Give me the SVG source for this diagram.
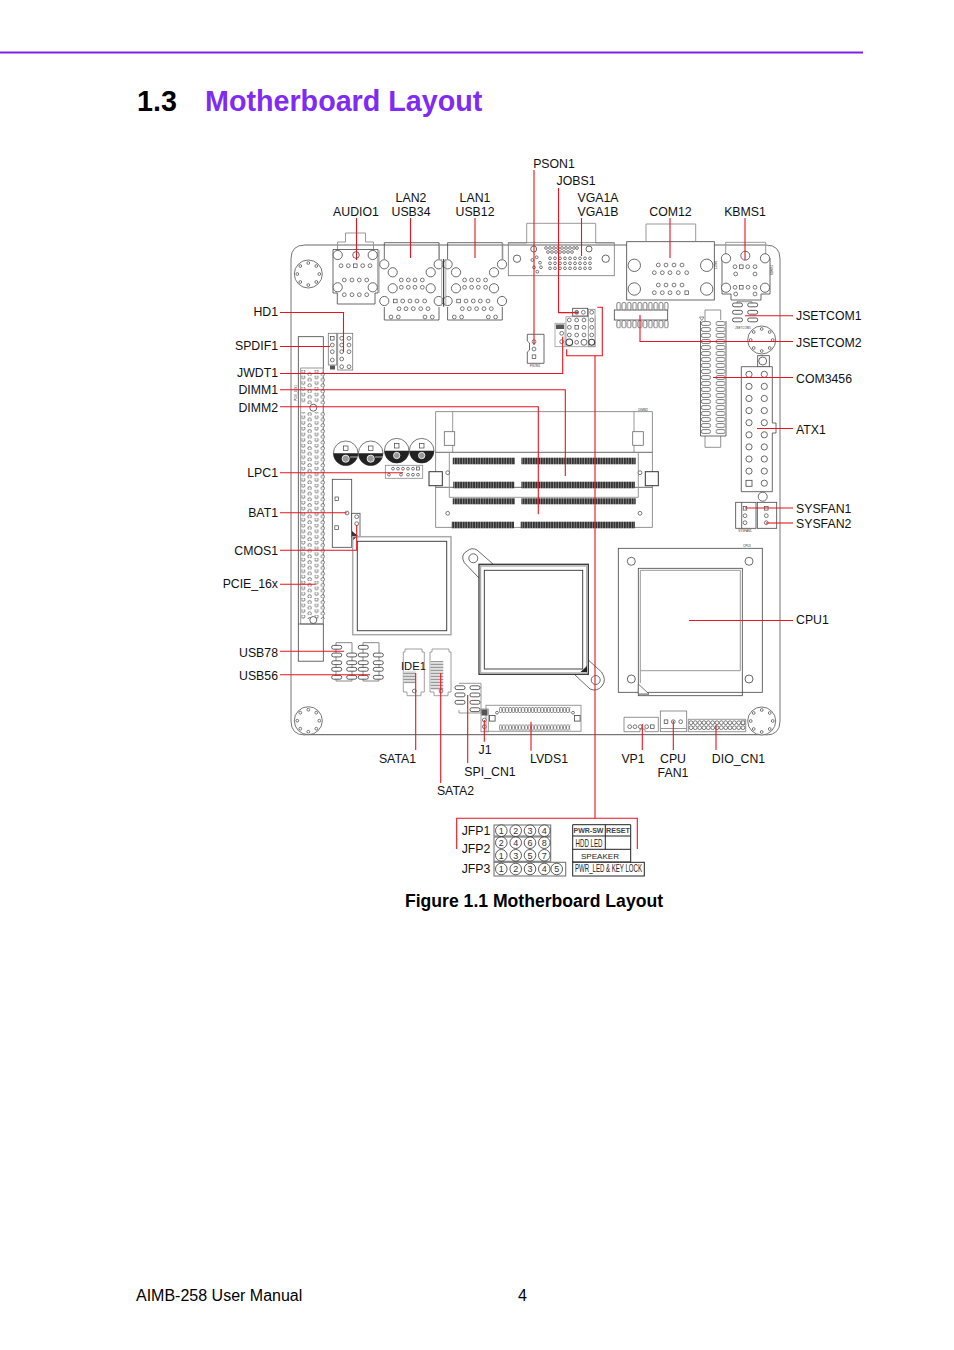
<svg xmlns="http://www.w3.org/2000/svg" xmlns:xlink="http://www.w3.org/1999/xlink" width="954" height="1350" viewBox="0 0 954 1350">
<style>
text{font-family:"Liberation Sans",Arial,sans-serif;fill:#111}
.l{font-size:12.3px}
.e{text-anchor:end}
.m{text-anchor:middle}
.tiny{font-size:3px;fill:#333;text-anchor:middle}
.o,.o *{fill:none}
.o{stroke:#444;stroke-width:.8}
.g{fill:none;stroke:#999;stroke-width:1}
.h{fill:#fff;stroke:#444;stroke-width:.7;r:1.9px}
.s{fill:#fff;stroke:#444;stroke-width:.7;r:1.4px}
.b{fill:#fff;stroke:#444;stroke-width:.8;r:4.6px}
.q{fill:#fff;stroke:#444;stroke-width:.7;width:3.6px;height:3.6px}
.p{fill:#fff;stroke:#333;stroke-width:.8;rx:1.8px;width:10px;height:3.8px}
.w{fill:#fff;stroke:#444;stroke-width:.8}
.d{fill:url(#strip);stroke:none}
.n{font-size:9px;text-anchor:middle;fill:#333}
.c{fill:#fff;stroke:#333;stroke-width:.8}
.k{font-size:7px;font-weight:bold;fill:#444;text-anchor:middle}
#conn path{fill:none;stroke:#e8141e;stroke-width:1.1}
</style>
<defs>
<pattern id="strip" patternUnits="userSpaceOnUse" width="2.6" height="8"><rect width="2.6" height="8" fill="#8a8a8a"/><rect width="1.7" height="8" fill="#333"/></pattern>
<pattern id="pcie" patternUnits="userSpaceOnUse" x="301.4" y="370" width="13.2" height="5.7"><circle cx="1.9" cy="1.4" r="1.7" fill="#fff" stroke="#444" stroke-width=".7"/><circle cx="8.2" cy="4.2" r="1.7" fill="#fff" stroke="#444" stroke-width=".7"/></pattern>
<pattern id="com" patternUnits="userSpaceOnUse" x="701" y="321" width="14.7" height="6"><rect x=".4" y=".6" width="9" height="3.8" rx="1.6" fill="#fff" stroke="#444" stroke-width=".7"/></pattern>
<pattern id="lv1" patternUnits="userSpaceOnUse" x="499" y="707" width="3.2" height="6"><rect x=".4" y=".4" width="2.4" height="5.2" rx="1.1" fill="#fff" stroke="#444" stroke-width=".6"/></pattern>
<pattern id="lv2" patternUnits="userSpaceOnUse" x="499" y="724.5" width="3.2" height="6"><rect x=".4" y=".4" width="2.4" height="5.2" rx="1.1" fill="#fff" stroke="#444" stroke-width=".6"/></pattern>
<pattern id="js1" patternUnits="userSpaceOnUse" x="616" y="302" width="5.3" height="8.2"><rect x=".8" y=".4" width="3.6" height="7.6" rx="1.6" fill="#fff" stroke="#444" stroke-width=".7"/></pattern>
<pattern id="js2" patternUnits="userSpaceOnUse" x="616" y="320" width="5.3" height="8.2"><rect x=".8" y=".4" width="3.6" height="7.6" rx="1.6" fill="#fff" stroke="#444" stroke-width=".7"/></pattern>
<pattern id="sat" patternUnits="userSpaceOnUse" width="8" height="3"><rect width="8" height="3" fill="#fff"/><rect y=".6" width="8" height="1.7" fill="#999"/></pattern>
<g id="screw">
<circle r="14" fill="#fff" stroke="#666" stroke-width=".9"/>
<circle class="s" cy="-11"/><circle class="s" cx="8" cy="-8"/><circle class="s" cx="11"/><circle class="s" cx="8" cy="8"/><circle class="s" cy="11"/><circle class="s" cx="-8" cy="8"/><circle class="s" cx="-11"/><circle class="s" cx="-8" cy="-8"/>
</g>
<g id="lan">
<path class="o" d="M384.3 259V242.7H439V259M384.3 307V320H439V307"/>
<path class="g" d="M439.5 243V259"/>
<circle class="b" cx="384.3" cy="264.3"/><circle class="b" cx="392.7" cy="272.3"/><circle class="b" cx="430.7" cy="272.3"/><circle class="b" cx="438.7" cy="264.3"/><circle class="b" cx="392.7" cy="288.3"/><circle class="b" cx="430.7" cy="288.3"/><circle class="b" cx="384.3" cy="301"/><circle class="b" cx="438.7" cy="301"/>
<circle class="h" cx="401.3" cy="280"/><circle class="h" cx="408.3" cy="280"/><circle class="h" cx="415" cy="280"/><circle class="h" cx="422.3" cy="280"/>
<circle class="h" cx="401.3" cy="287.3"/><circle class="h" cx="408.3" cy="287.3"/><circle class="h" cx="415" cy="287.3"/><circle class="h" cx="422.3" cy="287.3"/>
<rect class="q" x="393.5" y="299.2"/><circle class="h" cx="402.7" cy="301"/><circle class="h" cx="410" cy="301"/><circle class="h" cx="417" cy="301"/><circle class="h" cx="424.7" cy="301"/>
<circle class="h" cx="399" cy="308.7"/><circle class="h" cx="406" cy="308.7"/><circle class="h" cx="413.3" cy="308.7"/><circle class="h" cx="420.7" cy="308.7"/><circle class="h" cx="428" cy="308.7"/>
<circle class="h" cx="391" cy="317"/><circle class="h" cx="398.3" cy="317"/><circle class="h" cx="425" cy="317"/><circle class="h" cx="432.3" cy="317"/>
</g>
<g id="pill4">
<rect class="p" x="0" y="0"/><rect class="p" x="0" y="7.7"/><rect class="p" x="0" y="15.4"/><rect class="p" x="0" y="22"/><rect class="p" x="0" y="30"/>
<rect class="p" x="15" y="7.7"/><rect class="p" x="15" y="15.4"/><rect class="p" x="15" y="22"/><rect class="p" x="15" y="30"/>
</g>
</defs>

<rect width="954" height="1350" fill="#fff"/>
<path d="M0 52.5H863" stroke="#7a22ea" stroke-width="2" fill="none"/>
<text x="137" y="111" font-size="28.7" font-weight="bold" style="fill:#000">1.3</text>
<text x="205" y="111" font-size="28.7" font-weight="bold" style="fill:#7f2bf5">Motherboard Layout</text>

<g id="board">
<path d="M305 245H766Q780 245 780 259V721Q780 735 766 735H305Q291 735 291 721V259Q291 245 305 245Z" fill="#fff" stroke="none"/>
<path d="M305 245H766" fill="none" stroke="#555" stroke-width=".9"/>
<path d="M291 721V259Q291 245 305 245M766 245Q780 245 780 259V721Q780 735 766 735M305 735Q291 735 291 721" fill="none" stroke="#777" stroke-width="1"/>
<path d="M305 734.7H766" fill="none" stroke="#444" stroke-width=".9"/>
</g>

<g id="screws">
<use href="#screw" x="308.3" y="274"/><use href="#screw" x="308.3" y="720.7"/><use href="#screw" x="761.7" y="721"/><use href="#screw" x="761.7" y="340"/>
</g>

<g id="audio1">
<path class="w" d="M333 249.5H378V293H375V304H337.3V293H333Z"/>
<path class="g" d="M337.5 249V242H345.5V233H365.5V242H373.5V249"/>
<path d="M379 250V293" stroke="#aaa" stroke-width="1.2" fill="none"/>
<circle class="b" cx="337.7" cy="255"/><circle class="b" cx="372.7" cy="255"/><circle class="b" cx="356" cy="255" style="r:3.3px"/><circle class="b" cx="337.7" cy="287.3"/><circle class="b" cx="372.7" cy="287.3"/>
<circle class="h" cx="341" cy="265.7"/><circle class="h" cx="348.3" cy="265.7"/><rect class="q" x="353.5" y="263.9"/><circle class="h" cx="362.7" cy="265.7"/><circle class="h" cx="370" cy="265.7"/>
<circle class="h" cx="344.3" cy="280"/><circle class="h" cx="352" cy="280"/><circle class="h" cx="359.3" cy="280"/><circle class="h" cx="366.7" cy="280"/>
<circle class="h" cx="344.3" cy="294.7"/><circle class="h" cx="352" cy="294.7"/><circle class="h" cx="359.3" cy="294.7"/><circle class="h" cx="366.7" cy="294.7"/>
</g>

<g id="lan2"><use href="#lan"/></g>
<g id="lan1"><use href="#lan" x="63.3"/></g>
<g id="lan-divider"><path d="M441.7 259V306M445.8 259V306" stroke="#aaa" stroke-width="1" fill="none"/><path d="M443.7 259V306.7" stroke="#222" stroke-width="1" fill="none"/></g>

<g id="vga1">
<path class="g" d="M508.3 243H526.7V223.3H595.7V243H614.3"/>
<rect class="o" x="508.3" y="242.7" width="106" height="33" style="stroke:#777"/>
<circle class="b" cx="517" cy="258.7" style="r:3.7px"/><circle class="b" cx="605.7" cy="258.7" style="r:3.7px"/><circle class="b" cx="533.7" cy="249" style="r:3px"/><circle class="b" cx="589" cy="249" style="r:3px"/>
<g style="stroke-width:.6">
<circle class="s" cx="546" cy="248"/><circle class="s" cx="550" cy="248"/><circle class="s" cx="554" cy="248"/><circle class="s" cx="558" cy="248"/><circle class="s" cx="562" cy="248"/><circle class="s" cx="566" cy="248"/><circle class="s" cx="570" cy="248"/><circle class="s" cx="574" cy="248"/><circle class="s" cx="577" cy="248"/>
<circle class="s" cx="548" cy="252"/><circle class="s" cx="552" cy="252"/><circle class="s" cx="556" cy="252"/><circle class="s" cx="560" cy="252"/><circle class="s" cx="564" cy="252"/><circle class="s" cx="568" cy="252"/><circle class="s" cx="572" cy="252"/>
<circle class="s" cx="550" cy="258.3"/><circle class="s" cx="555" cy="258.3"/><circle class="s" cx="560" cy="258.3"/><circle class="s" cx="565" cy="258.3"/><circle class="s" cx="570" cy="258.3"/><circle class="s" cx="575" cy="258.3"/><circle class="s" cx="580" cy="258.3"/><circle class="s" cx="585" cy="258.3"/><circle class="s" cx="590" cy="258.3"/>
<circle class="s" cx="550" cy="263.3"/><circle class="s" cx="555" cy="263.3"/><circle class="s" cx="560" cy="263.3"/><circle class="s" cx="565" cy="263.3"/><circle class="s" cx="570" cy="263.3"/><circle class="s" cx="575" cy="263.3"/><circle class="s" cx="580" cy="263.3"/><circle class="s" cx="585" cy="263.3"/><circle class="s" cx="590" cy="263.3"/>
<circle class="s" cx="550" cy="268.3"/><circle class="s" cx="555" cy="268.3"/><circle class="s" cx="560" cy="268.3"/><circle class="s" cx="565" cy="268.3"/><circle class="s" cx="570" cy="268.3"/><circle class="s" cx="575" cy="268.3"/><circle class="s" cx="580" cy="268.3"/><circle class="s" cx="585" cy="268.3"/><circle class="s" cx="590" cy="268.3"/>
<circle class="s" cx="536.7" cy="257.3"/><circle class="s" cx="532.3" cy="260"/><circle class="s" cx="540" cy="262.7"/><circle class="s" cx="534" cy="267.3"/><circle class="s" cx="541" cy="267.3"/><circle class="s" cx="537.3" cy="271.7"/>
</g>
</g>

<g id="com12">
<path class="g" d="M646 241V224H695.7V241"/>
<rect class="w" x="626.7" y="241.7" width="87.6" height="58.3"/>
<circle class="b" cx="634.3" cy="265.3" style="r:6.2px"/><circle class="b" cx="706.7" cy="265.3" style="r:6.2px"/><circle class="b" cx="634.3" cy="289" style="r:6.2px"/><circle class="b" cx="706.7" cy="289" style="r:6.2px"/>
<circle class="h" cx="658.3" cy="265"/><circle class="h" cx="666" cy="265"/><circle class="h" cx="674" cy="265"/><circle class="h" cx="682" cy="265"/>
<circle class="h" cx="654.3" cy="272.7"/><circle class="h" cx="662.3" cy="272.7"/><circle class="h" cx="670" cy="272.7"/><circle class="h" cx="678.3" cy="272.7"/><circle class="h" cx="686.7" cy="272.7"/>
<circle class="h" cx="658.3" cy="285"/><circle class="h" cx="666" cy="285"/><circle class="h" cx="674" cy="285"/><circle class="h" cx="682" cy="285"/>
<circle class="h" cx="654.3" cy="292.7"/><circle class="h" cx="662.3" cy="292.7"/><circle class="h" cx="670" cy="292.7"/><circle class="h" cx="678.3" cy="292.7"/><rect class="q" x="684.9" y="290.9"/>
<text class="tiny" transform="translate(717,265) rotate(-90)">COM1</text>
</g>

<g id="kbms1">
<path class="g" d="M725.7 254V242.3H765.7V254"/>
<path class="o" d="M722 258V294H731V300H761V294H770V258"/>
<circle class="b" cx="726" cy="258.3"/><circle class="b" cx="765" cy="258.3"/><circle class="b" cx="726" cy="287.7"/><circle class="b" cx="765" cy="287.7"/><circle class="b" cx="745.3" cy="255.7" style="r:4.5px"/>
<circle class="h" cx="735" cy="266.7"/><rect class="q" x="739.5" y="264.9"/><circle class="h" cx="747.7" cy="266.7"/><circle class="h" cx="755" cy="266.7"/><circle class="h" cx="735.7" cy="274"/><circle class="h" cx="755" cy="274"/>
<circle class="h" cx="735" cy="287.3"/><rect class="q" x="739.5" y="285.5"/><circle class="h" cx="748" cy="287.3"/><circle class="h" cx="755" cy="287.3"/><circle class="h" cx="735.7" cy="294"/><circle class="h" cx="755" cy="294"/>
<text class="tiny" transform="translate(773,270) rotate(-90)">KBMS1</text>
</g>

<g id="jsetcom2">
<rect class="o" x="614.3" y="310" width="53.4" height="10"/>
<rect x="616" y="302" width="53" height="8.2" fill="url(#js1)"/>
<rect x="616" y="320" width="53" height="8.2" fill="url(#js2)"/>
</g>
<g id="jsetcom1">
<path class="g" d="M737 303V301.7H752V303"/>
<rect class="p" x="732.5" y="303"/><rect class="p" x="747.7" y="303"/><rect class="p" x="732.5" y="310.4"/><rect class="p" x="747.7" y="310.4"/><rect class="p" x="732.5" y="318"/><rect class="p" x="747.7" y="318"/>
<text class="tiny" x="743" y="329">JSETCOM1</text>
</g>

<g id="com3456">
<path class="o" d="M705 321V310H720.7V320M705 436V447.3H720.7V436" style="stroke:#777"/>
<path class="o" d="M700.5 321V436H726V321"/>
<rect x="701" y="321" width="24.5" height="114" fill="url(#com)"/>
<path d="M699.5 317H704L701.7 320.5Z" fill="#fff" stroke="#444" stroke-width=".6"/>
</g>

<g id="atx1">
<rect class="w" x="757.7" y="355.7" width="11.6" height="11.2"/><circle class="b" cx="762.7" cy="361" style="r:4px"/>
<path class="w" d="M741.3 366.7H772.3V423H776V433H772.3V491.7H741.3Z"/>
<circle class="b" cx="762.7" cy="496.7" style="r:4.5px"/>
<g id="atxpins">
<circle class="b" style="r:3.1px" cx="749" cy="374.3"/><circle class="b" style="r:3.1px" cx="749" cy="386.4"/><circle class="b" style="r:3.1px" cx="749" cy="398.5"/><circle class="b" style="r:3.1px" cx="749" cy="410.6"/><circle class="b" style="r:3.1px" cx="749" cy="422.7"/><circle class="b" style="r:3.1px" cx="749" cy="434.8"/><circle class="b" style="r:3.1px" cx="749" cy="446.9"/><circle class="b" style="r:3.1px" cx="749" cy="459"/><circle class="b" style="r:3.1px" cx="749" cy="471.1"/><rect class="w" x="746" y="480.3" width="6" height="6"/>
<circle class="b" style="r:3.1px" cx="764.3" cy="374.3"/><circle class="b" style="r:3.1px" cx="764.3" cy="386.4"/><circle class="b" style="r:3.1px" cx="764.3" cy="398.5"/><circle class="b" style="r:3.1px" cx="764.3" cy="410.6"/><circle class="b" style="r:3.1px" cx="764.3" cy="422.7"/><circle class="b" style="r:3.1px" cx="764.3" cy="434.8"/><circle class="b" style="r:3.1px" cx="764.3" cy="446.9"/><circle class="b" style="r:3.1px" cx="764.3" cy="459"/><circle class="b" style="r:3.1px" cx="764.3" cy="471.1"/><circle class="b" style="r:3.1px" cx="764.3" cy="483.2"/>
</g>
</g>

<g id="sysfan1">
<rect class="w" x="735.7" y="502.3" width="20.3" height="26"/><path class="o" d="M741.7 502.3V528.3"/>
<rect class="q" x="743.2" y="506.5"/><circle class="h" cx="745" cy="515.7"/><circle class="h" cx="745" cy="522.7"/>
<text class="tiny" x="745" y="532">SYSFAN1</text>
</g>
<g id="sysfan2">
<rect class="w" x="757.3" y="502.3" width="19.4" height="26"/>
<rect class="q" x="764.5" y="506.5"/><circle class="h" cx="766.3" cy="515.7"/><circle class="h" cx="766.3" cy="522.7"/>
</g>

<g id="pcie16x">
<rect class="o" x="298.3" y="336.7" width="25" height="324.5"/>
<path class="g" d="M300.7 368H323.3V624H300.7Z"/>
<rect x="301" y="370" width="24.5" height="34" fill="url(#pcie)"/>
<rect x="301" y="412" width="24.5" height="207" fill="url(#pcie)"/>
<circle class="b" cx="313.3" cy="407.7" style="r:3.5px"/><circle class="b" cx="313.3" cy="620" style="r:3.5px"/>
<path class="o" d="M298.3 624H323.3"/>
<text class="tiny" transform="translate(296.5,393) rotate(-90)">PCIE_16X1</text>
</g>

<g id="hd1">
<rect class="w" x="337.7" y="333.3" width="15" height="36.7" style="stroke:#777"/>
<circle class="h" cx="341.7" cy="338.3"/><circle class="h" cx="349" cy="338.3"/><circle class="h" cx="341.7" cy="345"/><circle class="h" cx="349" cy="345"/><circle class="h" cx="341.7" cy="351.7"/><circle class="h" cx="349" cy="351.7"/><circle class="h" cx="341.7" cy="359"/><circle class="h" cx="341.7" cy="366.7"/><circle class="h" cx="349" cy="366.7"/>
</g>
<g id="spdif1">
<rect class="w" x="328.3" y="333.3" width="8.4" height="31.7" style="stroke:#777"/>
<rect class="q" x="330.5" y="336.5"/><circle class="h" cx="332.3" cy="345"/><circle class="h" cx="332.3" cy="351.7"/><circle class="h" cx="332.3" cy="360"/>
<rect x="330" y="365.5" width="5" height="4" fill="#555"/>
</g>

<g id="pson1">
<path class="w" d="M527.3 334.3H544V363.3H527.3V352L529.5 350V343L527.3 341Z"/>
<circle class="h" cx="534" cy="341.7"/><circle class="h" cx="534" cy="349"/><rect class="q" x="532.2" y="354.9"/>
<text class="tiny" x="535" y="367">PSON1</text>
</g>
<g id="jwdt1">
<rect class="w" x="555" y="323.3" width="10" height="23.4" style="stroke:#999"/>
<rect x="556" y="324.5" width="8" height="4.5" fill="#555"/>
<circle class="h" cx="561.7" cy="333.3"/><circle class="h" cx="561.7" cy="341.7"/>
</g>
<g id="jobs1">
<rect class="w" x="566" y="316.7" width="29" height="30" style="stroke:#999"/>
<rect class="w" x="588.3" y="309.3" width="6.7" height="37.4" style="stroke:#888"/>
<rect class="w" x="572.7" y="308.3" width="15" height="7.7"/>
<circle class="h" cx="576.7" cy="312.3" style="fill:#aaa"/><circle class="h" cx="583.3" cy="312.3"/>
<circle class="h" cx="591.7" cy="312.3"/><circle class="h" cx="591.7" cy="320"/><circle class="h" cx="591.7" cy="327.3"/><circle class="h" cx="591.7" cy="335"/>
<circle class="h" cx="569.3" cy="320"/><circle class="h" cx="576.7" cy="320"/><circle class="h" cx="584" cy="320"/>
<circle class="h" cx="569.3" cy="327.3"/><rect class="q" x="574.9" y="325.5"/><circle class="h" cx="584" cy="327.3"/>
<circle class="h" cx="569.3" cy="335"/><circle class="h" cx="576.7" cy="335"/><circle class="h" cx="584" cy="335"/>
<circle class="b" cx="569.3" cy="342.3" style="r:3.3px;stroke-width:1.1"/><circle class="h" cx="576.7" cy="342.3"/><circle class="b" cx="584" cy="342.3" style="r:3px"/><circle class="b" cx="591.7" cy="342.3" style="r:3px;stroke-width:1.1"/>
</g>

<g id="dimm">
<rect class="o" x="435.7" y="411.7" width="216.6" height="115.6" style="stroke:#777"/>
<path class="g" d="M452.7 411.7V452M634 411.7V452"/>
<path class="o" d="M435.7 452.3H652.3M435.7 487.3H652.3"/>
<path class="g" d="M449.3 452V497.3H638.3V452"/>
<rect class="w" x="444.3" y="431.7" width="10.4" height="13.6" style="stroke:#666"/>
<rect class="w" x="632.7" y="431.7" width="10.6" height="13.6" style="stroke:#666"/>
<rect class="w" x="429" y="471.7" width="13.3" height="14" style="stroke:#333;stroke-width:1"/>
<rect class="w" x="645.3" y="471.7" width="13" height="14" style="stroke:#333;stroke-width:1"/>
<rect class="d" x="452.7" y="457.7" width="62.3" height="6.6"/><rect class="d" x="521.3" y="457.7" width="114.4" height="6.6"/>
<rect class="d" x="453.3" y="481.7" width="61" height="6.6"/><rect class="d" x="521.3" y="481.7" width="113.7" height="6.6"/>
<rect class="d" x="452.7" y="498.3" width="62.3" height="6"/><rect class="d" x="521.3" y="498.3" width="114.4" height="6"/>
<rect class="d" x="451.7" y="521.7" width="62.3" height="6.6"/><rect class="d" x="520.7" y="521.7" width="114.3" height="6.6"/>
<circle class="h" cx="447.7" cy="472.7"/><circle class="h" cx="640" cy="472.7"/><circle class="h" cx="447.7" cy="513.3"/><circle class="h" cx="640" cy="513.3"/>
<text class="tiny" x="643" y="410.5">DIMM2</text>
</g>

<g id="caps">
<circle cx="345.7" cy="453.3" r="12.3" fill="#fff" stroke="#555" stroke-width=".8"/><path d="M333.4 453.3A12.3 12.3 0 0 0 358 453.3Z" fill="#222"/><rect class="q" x="343.5" y="446" style="width:4.5px;height:4.5px"/><circle cx="345.7" cy="458.7" r="3.6" fill="#999" stroke="#fff" stroke-width=".8"/><path d="M350 457H358" stroke="#ddd" stroke-width=".8"/>
<circle cx="370.7" cy="453.3" r="12.3" fill="#fff" stroke="#555" stroke-width=".8"/><path d="M358.4 453.3A12.3 12.3 0 0 0 383 453.3Z" fill="#222"/><rect class="q" x="368.5" y="446" style="width:4.5px;height:4.5px"/><circle cx="370.7" cy="458.7" r="3.6" fill="#999" stroke="#fff" stroke-width=".8"/><path d="M375 457H383" stroke="#ddd" stroke-width=".8"/>
<circle cx="396.7" cy="450.7" r="12.3" fill="#fff" stroke="#555" stroke-width=".8"/><path d="M384.4 450.7A12.3 12.3 0 0 0 409 450.7Z" fill="#222"/><rect class="q" x="394.5" y="443.5" style="width:4.5px;height:4.5px"/><circle cx="396.7" cy="455.5" r="3.2" fill="#999" stroke="#fff" stroke-width=".8"/>
<circle cx="421.7" cy="450.7" r="12.3" fill="#fff" stroke="#555" stroke-width=".8"/><path d="M409.4 450.7A12.3 12.3 0 0 0 434 450.7Z" fill="#222"/><rect class="q" x="419.5" y="443.5" style="width:4.5px;height:4.5px"/><circle cx="421.7" cy="455.5" r="3.2" fill="#999" stroke="#fff" stroke-width=".8"/>
</g>

<g id="lpc1">
<rect class="o" x="385.3" y="465.3" width="37.4" height="13" style="stroke:#888"/>
<circle class="s" cx="393" cy="468.7"/><circle class="s" cx="398" cy="468.7"/><circle class="s" cx="403" cy="468.7"/><circle class="s" cx="408" cy="468.7"/><circle class="s" cx="413" cy="468.7"/><rect class="q" x="416.5" y="467" style="width:3px;height:3px"/>
<circle class="s" cx="389" cy="474.7"/><circle class="s" cx="401" cy="474.7"/><circle class="s" cx="408" cy="474.7"/><circle class="s" cx="413" cy="474.7"/><circle class="s" cx="418" cy="474.7"/>
</g>

<g id="bat1">
<rect class="o" x="332.3" y="479.3" width="19.4" height="68"/>
<rect class="q" x="335" y="497"/><rect class="q" x="334.8" y="525.8"/><circle class="h" cx="347" cy="513"/>
</g>
<g id="cmos1">
<rect class="w" x="351.7" y="513.3" width="8.3" height="23.4"/>
<circle class="h" cx="356.7" cy="516.7"/><circle class="h" cx="356.7" cy="523.7"/><path d="M352 531L358 536L352 541Z" fill="#333"/>
</g>

<g id="chipset">
<rect class="g" x="352.7" y="536.7" width="98.3" height="98" style="stroke-width:1.5;stroke:#aaa"/>
<rect class="o" x="357.3" y="541.3" width="89.4" height="89.4" style="stroke-width:1"/>
</g>

<g id="vgachip">
<path class="o" d="M479 578L464.3 562.7Q460 555 467 551Q472 547 477 550L493 564"/>
<path class="o" d="M588.3 660L601.5 672Q607 680 602 686Q597 692 590 689L574.3 674.3"/>
<circle class="b" cx="473.3" cy="558.3" style="r:4.5px"/>
<circle class="b" cx="595.7" cy="680" style="r:4.5px"/>
<rect x="479" y="564.3" width="109.3" height="110" fill="#fff" stroke="#333" stroke-width="1.3"/>
<rect x="480.5" y="566" width="106.3" height="107" fill="none" stroke="#aaa" stroke-width="1.4"/>
<rect x="484.3" y="570.3" width="98.4" height="98.7" fill="#fff" stroke="#333" stroke-width=".9"/>
<path d="M587 672H580.5L587 666Z" fill="#222"/>
</g>

<g id="cpu1">
<rect class="o" x="618.3" y="548.3" width="144" height="144"/>
<circle class="b" cx="631.3" cy="561.3" style="r:4px"/><circle class="b" cx="749" cy="561.3" style="r:4px"/><circle class="b" cx="631.3" cy="679" style="r:4px"/><circle class="b" cx="749" cy="679" style="r:4px"/>
<rect class="o" x="638.3" y="568.3" width="104" height="127.4"/>
<path class="g" d="M640.3 683V570.3H740.3V670.7H640.3"/>
<path d="M638.3 684L649 694H638.3Z" fill="#fff" stroke="#555" stroke-width=".8"/>
<path class="g" d="M638.3 694.4H649"/>
<text class="tiny" x="747" y="547">CPU1</text>
</g>

<g id="usb78"><path class="g" d="M336 681V642.7H352V681H336" style="stroke:#888"/><use href="#pill4" x="331.7" y="645.4"/></g>
<g id="usb56"><path class="g" d="M363 681V642.7H379V681H363" style="stroke:#888"/><use href="#pill4" x="358.3" y="645.4"/></g>

<g id="sata1">
<path class="w" d="M405 649H422V652H424.3V692H421V695.7H407V692H403.3V652H405Z" style="stroke:#888"/>
<rect x="403.5" y="671" width="12.2" height="12.3" fill="url(#sat)"/>
<circle class="h" cx="414.3" cy="691"/>
</g>
<g id="sata2">
<path class="w" d="M432 649H449V652H451V692H448V695.7H434V692H430V652H432Z" style="stroke:#888"/>
<rect x="430.7" y="661" width="12.6" height="29" fill="url(#sat)"/>
<circle class="h" cx="441" cy="691"/>
</g>

<g id="spi">
<path class="g" d="M459 683.3H481V713H459V710"/>
<rect class="p" x="455" y="685.8"/><rect class="p" x="470" y="685.8"/><rect class="p" x="455" y="693"/><rect class="p" x="470" y="693"/><rect class="p" x="455" y="700.4"/><rect class="p" x="470" y="700.4"/><rect class="p" x="470" y="707.8"/>
</g>

<g id="lvds1">
<rect class="g" x="486" y="705.3" width="95" height="26"/>
<rect x="499" y="707" width="71.5" height="6" fill="url(#lv1)"/><rect x="499" y="724.5" width="71.5" height="6" fill="url(#lv2)"/>
<rect class="w" x="489.5" y="715.5" width="5.6" height="5.6"/><rect class="w" x="574.5" y="715.5" width="5.6" height="5.6"/>
<circle class="s" cx="497" cy="712.7"/><circle class="s" cx="573" cy="712.7"/>
</g>
<g id="j1">
<rect class="g" x="481" y="709" width="7.3" height="22.7"/>
<rect x="481.5" y="709.5" width="6" height="6" fill="#555"/>
<circle class="h" cx="484.3" cy="720"/><circle class="h" cx="484.3" cy="726.7"/>
</g>

<g id="vp1">
<path class="o" d="M624 717.3H658.3V731.7H645V729H640V731.7H624Z" style="stroke:#777"/>
<circle class="h" cx="629.7" cy="726.7"/><circle class="h" cx="635" cy="726.7"/><circle class="h" cx="640.3" cy="726.7"/><circle class="h" cx="646.7" cy="726.7"/><rect class="q" x="650.5" y="724.9"/>
</g>
<g id="cpufan1">
<rect class="o" x="660.3" y="711" width="26.4" height="20.7" style="stroke:#777"/><path class="g" d="M660.3 728.5H686.7"/>
<rect class="q" x="664.2" y="719.9"/><circle class="h" cx="673.3" cy="721.7"/><circle class="h" cx="680.7" cy="721.7"/>
</g>
<g id="diocn1">
<rect class="g" x="688.3" y="719.3" width="57.4" height="12.4"/>
<circle class="h" cx="691" cy="722.7"/><circle class="h" cx="695.3" cy="722.7"/><circle class="h" cx="699.7" cy="722.7"/><circle class="h" cx="704" cy="722.7"/><circle class="h" cx="708.3" cy="722.7"/><circle class="h" cx="712.7" cy="722.7"/><circle class="h" cx="717" cy="722.7"/><circle class="h" cx="721.3" cy="722.7"/><circle class="h" cx="725.7" cy="722.7"/><circle class="h" cx="730" cy="722.7"/><circle class="h" cx="734.3" cy="722.7"/><circle class="h" cx="738.7" cy="722.7"/><rect class="q" x="741.2" y="720.9"/>
<circle class="h" cx="691" cy="727.7"/><circle class="h" cx="695.3" cy="727.7"/><circle class="h" cx="699.7" cy="727.7"/><circle class="h" cx="704" cy="727.7"/><circle class="h" cx="708.3" cy="727.7"/><circle class="h" cx="712.7" cy="727.7"/><circle class="h" cx="717" cy="727.7"/><circle class="h" cx="721.3" cy="727.7"/><circle class="h" cx="725.7" cy="727.7"/><circle class="h" cx="730" cy="727.7"/><circle class="h" cx="734.3" cy="727.7"/><circle class="h" cx="738.7" cy="727.7"/><circle class="h" cx="743" cy="727.7"/>
</g>

<g id="conn">
<path d="M356.5 218V260"/><path d="M410.5 218V258"/><path d="M475 218V258"/><path d="M534 170V345"/><path d="M558.5 188V312.6H578"/><path d="M581.5 218V256"/><path d="M670 218V258"/><path d="M745 218V260"/>
<path d="M745 315.7H793"/><path d="M640 315V341.5H793"/><path d="M713 377.5H793"/><path d="M757 428.5H793"/><path d="M745 508H793"/><path d="M766 523H793"/><path d="M689 620.5H793"/>
<path d="M280 312.5H343.5V352"/><path d="M280 346.5H330"/><path d="M280 373.5H562.7V336.7"/><path d="M280 389.7H565.3V476"/><path d="M280 406.7H538.3V514.3"/><path d="M280 472.7H403"/><path d="M280 512.7H346.7"/><path d="M280 550.3H356.7V525"/><path d="M280 584.3H315.7"/><path d="M280 651.3H344"/><path d="M280 674.7H370"/>
<path d="M415.7 673V750"/><path d="M440.7 673V783"/><path d="M467.7 695V763"/><path d="M484.3 720V741.7"/><path d="M531 721.7V750.7"/><path d="M642.3 724V750"/><path d="M673.3 720.7V750"/><path d="M716 725V750"/>
<path d="M597.3 307.3H602.3V355.7H566.7V349.3"/><path d="M595 355.7V818.3"/><path d="M456.7 849V818.3H637.3V849"/>
</g>

<g id="labels">
<text class="l m" x="356" y="216">AUDIO1</text><text class="l m" x="411" y="202">LAN2</text><text class="l m" x="411" y="216">USB34</text><text class="l m" x="475" y="202">LAN1</text><text class="l m" x="475" y="216">USB12</text>
<text class="l m" x="554" y="168">PSON1</text><text class="l m" x="576" y="185">JOBS1</text><text class="l m" x="598" y="202">VGA1A</text><text class="l m" x="598" y="216">VGA1B</text><text class="l m" x="670.5" y="216">COM12</text><text class="l m" x="745" y="216">KBMS1</text>
<text class="l e" x="278" y="316">HD1</text><text class="l e" x="278" y="350">SPDIF1</text><text class="l e" x="278" y="377">JWDT1</text><text class="l e" x="278" y="394">DIMM1</text><text class="l e" x="278" y="412">DIMM2</text><text class="l e" x="278" y="477">LPC1</text><text class="l e" x="278" y="517">BAT1</text><text class="l e" x="278" y="555">CMOS1</text><text class="l e" x="278" y="588">PCIE_16x</text><text class="l e" x="278" y="657">USB78</text><text class="l e" x="278" y="680">USB56</text>
<text class="l" x="796" y="320">JSETCOM1</text><text class="l" x="796" y="346.5">JSETCOM2</text><text class="l" x="796" y="382.5">COM3456</text><text class="l" x="796" y="434">ATX1</text><text class="l" x="796" y="513">SYSFAN1</text><text class="l" x="796" y="528">SYSFAN2</text><text class="l" x="796" y="624">CPU1</text>
<text class="l m" x="397.5" y="763">SATA1</text><text class="l m" x="455.5" y="795">SATA2</text><text class="l m" x="490" y="776">SPI_CN1</text><text class="l m" x="485" y="754">J1</text><text class="l m" x="549" y="763">LVDS1</text><text class="l m" x="633" y="763">VP1</text><text class="l m" x="673" y="763">CPU</text><text class="l m" x="673" y="777">FAN1</text><text class="l m" x="738.5" y="763">DIO_CN1</text>
<text x="401" y="670" font-size="11.2">IDE1</text>
</g>

<g id="jfp">
<text class="l" x="461.7" y="835">JFP1</text><text class="l" x="461.7" y="853">JFP2</text><text class="l" x="461.7" y="872.5">JFP3</text>
<rect x="494" y="825" width="56.7" height="11" fill="#fff" stroke="#777" stroke-width="1.1"/>
<rect x="494" y="837" width="56.7" height="24.3" fill="#fff" stroke="#777" stroke-width="1.1"/>
<rect x="494" y="862.3" width="71.7" height="13.7" fill="#fff" stroke="#777" stroke-width="1.1"/>
<circle class="c" cx="501.3" cy="830.7" r="5.8"/><circle class="c" cx="515.7" cy="830.7" r="5.8"/><circle class="c" cx="530" cy="830.7" r="5.8"/><circle class="c" cx="544.3" cy="830.7" r="5.8"/>
<circle class="c" cx="501.3" cy="842.7" r="5.8"/><circle class="c" cx="515.7" cy="842.7" r="5.8"/><circle class="c" cx="530" cy="842.7" r="5.8"/><circle class="c" cx="544.3" cy="842.7" r="5.8"/>
<circle class="c" cx="501.3" cy="855.3" r="5.8"/><circle class="c" cx="515.7" cy="855.3" r="5.8"/><circle class="c" cx="530" cy="855.3" r="5.8"/><circle class="c" cx="544.3" cy="855.3" r="5.8"/>
<circle class="c" cx="501.3" cy="869" r="5.8"/><circle class="c" cx="515.7" cy="869" r="5.8"/><circle class="c" cx="530" cy="869" r="5.8"/><circle class="c" cx="544.3" cy="869" r="5.8"/><circle class="c" cx="556.7" cy="869" r="5.8"/>
<text class="n" x="501.3" y="834">1</text><text class="n" x="515.7" y="834">2</text><text class="n" x="530" y="834">3</text><text class="n" x="544.3" y="834">4</text>
<text class="n" x="501.3" y="846">2</text><text class="n" x="515.7" y="846">4</text><text class="n" x="530" y="846">6</text><text class="n" x="544.3" y="846">8</text>
<text class="n" x="501.3" y="858.5">1</text><text class="n" x="515.7" y="858.5">3</text><text class="n" x="530" y="858.5">5</text><text class="n" x="544.3" y="858.5">7</text>
<text class="n" x="501.3" y="872.2">1</text><text class="n" x="515.7" y="872.2">2</text><text class="n" x="530" y="872.2">3</text><text class="n" x="544.3" y="872.2">4</text><text class="n" x="556.7" y="872.2">5</text>
<path d="M572.7 824.7H630.7V862H572.7ZM572.7 836H630.7M572.7 849.3H630.7M605.3 824.7V849.3" fill="none" stroke="#222" stroke-width="1"/>
<rect x="572.7" y="862.3" width="71.6" height="13.7" fill="#fff" stroke="#222" stroke-width="1"/>
<text class="k" x="588.5" y="832.8" textLength="30" lengthAdjust="spacingAndGlyphs">PWR-SW</text>
<text class="k" x="618" y="832.8" textLength="24" lengthAdjust="spacingAndGlyphs">RESET</text>
<text x="575.5" y="847" font-size="10.5" style="fill:#222" textLength="27" lengthAdjust="spacingAndGlyphs">HDD LED</text>
<text x="581" y="859" font-size="8" style="fill:#222" textLength="38" lengthAdjust="spacingAndGlyphs">SPEAKER</text>
<text x="575" y="872" font-size="10.5" style="fill:#222" textLength="67" lengthAdjust="spacingAndGlyphs">PWR_LED &amp; KEY LOCK</text>
</g>

<text x="534" y="907" font-size="17.6" font-weight="bold" text-anchor="middle" style="fill:#000">Figure 1.1 Motherboard Layout</text>
<text x="136" y="1301" font-size="16" style="fill:#000">AIMB-258 User Manual</text>
<text x="518" y="1301" font-size="16" style="fill:#000">4</text>
</svg>
